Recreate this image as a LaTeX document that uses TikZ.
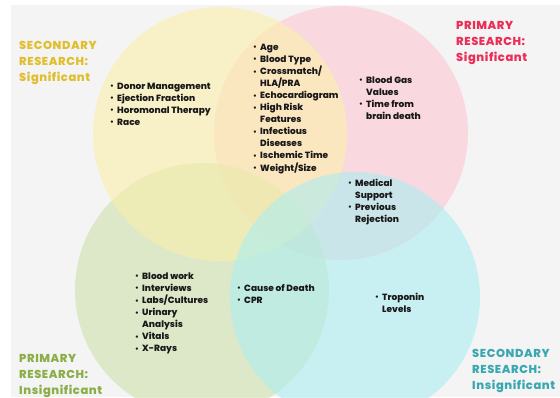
\documentclass[tikz,border=0pt]{standalone}
\usepackage{fontspec}
\setmainfont{Poppins}[BoldFont={Poppins ExtraBold}]
\definecolor{bgray}{HTML}{F4F4F4}
\definecolor{cyel}{RGB}{251,240,171}
\definecolor{cpink}{RGB}{253,200,210}
\definecolor{cgreen}{RGB}{205,225,172}
\definecolor{ccyan}{RGB}{172,238,242}
\definecolor{hyel}{RGB}{224,190,46}
\definecolor{hpink}{RGB}{236,45,88}
\definecolor{hgreen}{RGB}{138,174,72}
\definecolor{hcyan}{RGB}{58,168,178}
\definecolor{ink}{RGB}{25,25,25}
\newcommand{\itm}[1]{\makebox[7pt][l]{\raisebox{0.6pt}{\scalebox{0.8}{\textbullet}}} & #1\\}
\newcommand{\cnt}[1]{& #1\\}
\newcommand{\lst}[1]{\begin{tabular}[t]{@{}l@{}l@{}}#1\end{tabular}}
\newcommand{\hd}[1]{\begin{tabular}[t]{@{}l@{}}#1\end{tabular}}
\tikzset{
  items/.style={anchor=base west, inner sep=0pt, text=ink,
    font=\fontsize{9}{12}\selectfont\bfseries},
  heading/.style={anchor=base west, inner sep=0pt,
    font=\fontsize{11.5}{16}\selectfont\bfseries\addfontfeatures{LetterSpace=5}},
  venn/.style={fill opacity=0.6}
}
\begin{document}
\begin{tikzpicture}[x=1pt,y=-1pt]
\useasboundingbox (0,0) rectangle (560,397);
\fill[white] (0,0) rectangle (560,397);
\fill[bgray] (11,5) rectangle (560,397);

\fill[cpink,venn] (341,133) circle (127);
\fill[cgreen,venn] (202,290) circle (127);
\fill[cyel,venn] (220,134) circle (127);
\fill[ccyan,venn] (355,297) circle (125);

\node[heading,text=hyel] (secsig) at (19,49.5) {\hd{SECONDARY\\RESEARCH:\\Significant}};
\node[heading,text=hpink] (prisig) at (456,29) {\hd{PRIMARY\\RESEARCH:\\Significant}};
\node[heading,text=hgreen] (priins) at (19,362) {\hd{PRIMARY\\RESEARCH:\\Insignificant}};
\node[heading,text=hcyan] (secins) at (472,357) {\hd{SECONDARY\\RESEARCH:\\Insignificant}};

\node[items] (yonly) at (110,89.5) {\lst{\itm{Donor Management}\itm{Ejection Fraction}\itm{Horomonal Therapy}\itm{Race}}};
\node[items] (ypink) at (253,50.5) {\lst{\itm{Age}\itm{Blood Type}\itm{Crossmatch/}\cnt{HLA/PRA}\itm{Echocardiogram}\itm{High Risk}\cnt{Features}\itm{Infectious}\cnt{Diseases}\itm{Ischemic Time}\itm{Weight/Size}}};
\node[items] (ponly) at (359,83.5) {\lst{\itm{Blood Gas}\cnt{Values}\itm{Time from}\cnt{brain death}}};
\node[items] (pcyan) at (348,186.5) {\lst{\itm{Medical}\cnt{Support}\itm{Previous}\cnt{Rejection}}};
\node[items] (gonly) at (135,279.5) {\lst{\itm{Blood work}\itm{Interviews}\itm{Labs/Cultures}\itm{Urinary}\cnt{Analysis}\itm{Vitals}\itm{X-Rays}}};
\node[items] (gcyan) at (237,291.5) {\lst{\itm{Cause of Death}\itm{CPR}}};
\node[items] (conly) at (375,300.5) {\lst{\itm{Troponin}\cnt{Levels}}};
\end{tikzpicture}
\end{document}
